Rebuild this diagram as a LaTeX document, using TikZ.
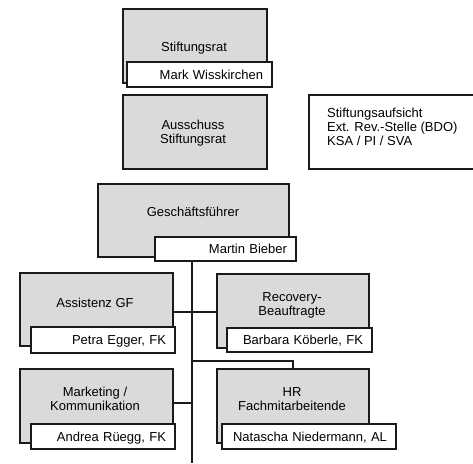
\documentclass[tikz,border=0pt]{standalone}
\usepackage{fontspec}
\setmainfont{Liberation Sans}
\definecolor{boxgray}{HTML}{DADADA}
\definecolor{edge}{HTML}{1A1A1A}
\begin{document}
\begin{tikzpicture}[x=1pt,y=-1pt,
  every node/.style={font=\fontsize{13}{14}\selectfont},
  gbox/.style={draw=edge,line width=2pt,fill=boxgray,anchor=north west,inner sep=0pt},
  wbox/.style={draw=edge,line width=2pt,fill=white,anchor=north west,inner sep=0pt},
  nbox/.style={draw=edge,line width=2pt,fill=white,anchor=north west,inner xsep=9pt,inner ysep=0pt,align=right,text height=9pt,text depth=0pt},
  lbl/.style={inner sep=0pt,align=center},
  conn/.style={draw=edge,line width=2pt}]
\useasboundingbox (0,0) rectangle (473,463);
\clip (0,0) rectangle (473,463);
% junction points on the vertical line
\coordinate (bus) at (192,463);
\coordinate (j1) at (192,312);
\coordinate (j2) at (192,403);
\coordinate (j3) at (192,361);
% boxes
\node[gbox,minimum width=144,minimum height=74] (sr) at (122,8) {};
\node[nbox,text width=127pt,minimum height=25] (srn) at (126,61) {Mark Wisskirchen};
\node[lbl,anchor=base] (srt) at (194,51) {Stiftungsrat};

\node[gbox,minimum width=144,minimum height=74] (aus) at (122,94) {};
\node[lbl] (aust) at (193,133) {Ausschuss\\Stiftungsrat};

\node[wbox,minimum width=177,minimum height=74] (aufs) at (308,94) {};
\node[lbl,align=left,anchor=north west] (aufst) at (327,108) {Stiftungsaufsicht\\Ext. Rev.-Stelle (BDO)\\KSA / PI / SVA};

\node[gbox,minimum width=191,minimum height=73] (gf) at (97,183) {};
\node[lbl,anchor=base] (gft) at (193,216) {Geschäftsführer};
\node[nbox,text width=123pt,minimum height=24] (gfn) at (154,236) {Martin Bieber};

\node[gbox,minimum width=153,minimum height=73] (ass) at (19,272) {};
\node[lbl,anchor=base] (asst) at (95,307) {Assistenz GF};
\node[nbox,text width=126pt,minimum height=26] (assn) at (30,326) {Petra Egger, FK};

\node[gbox,minimum width=152,minimum height=74] (rec) at (216,273) {};
\node[lbl] (rect) at (292,305) {Recovery-\\Beauftragte};
\node[nbox,text width=127pt,minimum height=24] (recn) at (226,327) {Barbara Köberle, FK};

\node[gbox,minimum width=153,minimum height=74] (mkt) at (19,368) {};
\node[lbl] (mktt) at (95,398.6) {Marketing /\\Kommunikation};
\node[nbox,text width=126pt,minimum height=25] (mktn) at (30,423) {Andrea Rüegg, FK};

\node[gbox,minimum width=152,minimum height=74] (hr) at (216,368) {};
\node[lbl] (hrt) at (292,398.6) {HR\\Fachmitarbeitende};
\node[nbox,text width=156pt,minimum height=25] (hrn) at (221,423) {Natascha Niedermann, AL};

% connectors
\draw[conn] (gfn.south -| bus) -- (bus);
\draw[conn] (ass.east |- j1) -- (rec.west |- j1);
\draw[conn] (mkt.east |- j2) -- (j2);
\draw[conn] (j3) -| (hr.north);
\end{tikzpicture}
\end{document}
